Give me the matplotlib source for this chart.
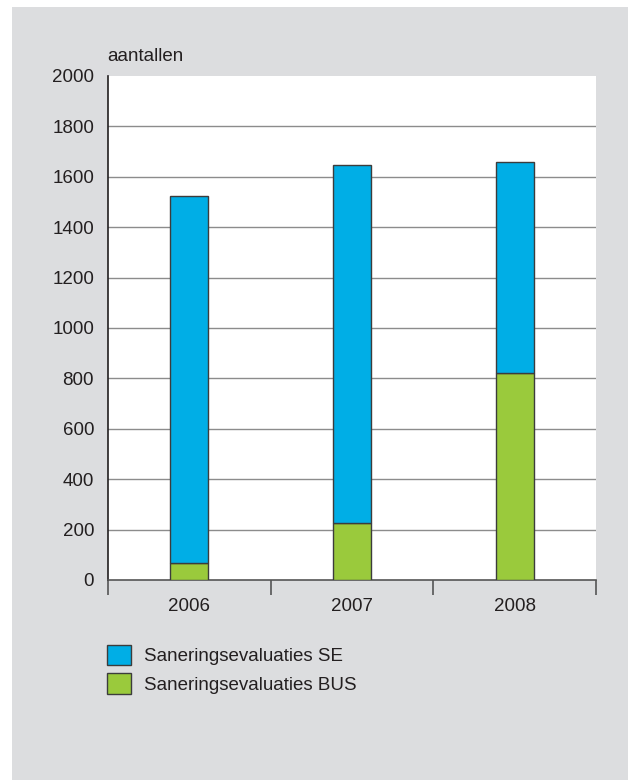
import matplotlib
matplotlib.use("Agg")
import matplotlib.pyplot as plt
from matplotlib.font_manager import fontManager
from matplotlib.patches import Rectangle

names = {f.name for f in fontManager.ttflist}
narrow = "Liberation Sans Narrow" in names
fam = "Liberation Sans Narrow" if narrow else "Liberation Sans"
plt.rcParams['font.family'] = [fam, 'DejaVu Sans']

years = ['2006', '2007', '2008']
bus = [68, 225, 822]
se = [1457, 1420, 838]  # stacked on top of BUS
yticks = [0, 200, 400, 600, 800, 1000, 1200, 1400, 1600, 1800, 2000]

blue = '#00aee6'
green = '#9aca3c'
edge = '#3c3c3c'
fs = 15.5 if narrow else 13.5

fig = plt.figure(figsize=(6.28, 7.80), dpi=100, facecolor='white')
fig.patches.append(Rectangle((12/628, 0), 1, 1 - 7/780, transform=fig.transFigure,
                             facecolor='#dcdddf', edgecolor='none', zorder=-10))

ax = fig.add_axes([108/628, 1 - 580/780, 488/628, 504/780])
ax.set_facecolor('white')
x = range(len(years))
ax.bar(x, bus, width=0.235, color=green, edgecolor=edge, linewidth=1, zorder=3,
       label='Saneringsevaluaties BUS')
ax.bar(x, se, width=0.235, bottom=bus, color=blue, edgecolor=edge, linewidth=1, zorder=3,
       label='Saneringsevaluaties SE')

ax.set_xlim(-0.5, 2.5)
ax.set_ylim(0, 2000)
ax.set_yticks(yticks)
ax.set_yticklabels([str(v) for v in yticks], fontsize=fs, color='#231f20')
ax.tick_params(axis='y', length=0, pad=10)
ax.set_xticks(list(x))
ax.set_xticklabels(years, fontsize=fs, color='#231f20')
ax.tick_params(axis='x', which='major', length=0, pad=13)
ax.set_xticks([-0.5, 0.5, 1.5, 2.5], minor=True)
ax.tick_params(axis='x', which='minor', length=11, width=1.2, color='#555555', direction='out')
for gy in yticks[1:-1]:
    ax.axhline(gy, color='#8c8c8c', linewidth=1, zorder=1)
for s in ['top', 'right']:
    ax.spines[s].set_visible(False)
ax.spines['left'].set_color('#231f20')
ax.spines['left'].set_linewidth(1.2)
ax.spines['bottom'].set_color('#555555')
ax.spines['bottom'].set_linewidth(1.2)

fig.text(107/628, 1 - 61/780, 'aantallen', fontsize=fs, color='#231f20', va='baseline')

h, l = ax.get_legend_handles_labels()
leg = fig.legend(h[::-1], l[::-1], loc='upper left', bbox_to_anchor=(99/628, 1 - 637/780),
                 frameon=False, fontsize=fs, handlelength=1.3, handleheight=1.3,
                 handletextpad=0.7, labelspacing=0.45, borderaxespad=0)
for t in leg.get_texts():
    t.set_color('#231f20')

fig.savefig('out.png', dpi=100, facecolor='white')
